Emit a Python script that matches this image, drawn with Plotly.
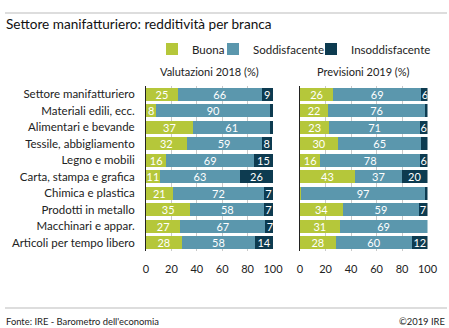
import plotly.graph_objects as go

categories = ["Settore manifatturiero", "Materiali edili, ecc.", "Alimentari e bevande",
              "Tessile, abbigliamento", "Legno e mobili", "Carta, stampa e grafica",
              "Chimica e plastica", "Prodotti in metallo", "Macchinari e appar.",
              "Articoli per tempo libero"]
series_names = ["Buona", "Soddisfacente", "Insoddisfacente"]
val2018_buona = [25, 8, 37, 32, 16, 11, 21, 35, 27, 28]
val2018_sodd = [66, 90, 61, 59, 69, 63, 72, 58, 67, 58]
val2018_insodd = [9, 2, 2, 8, 15, 26, 7, 7, 7, 14]
val2019_buona = [26, 22, 23, 30, 16, 43, 1, 34, 31, 28]
val2019_sodd = [69, 76, 71, 65, 78, 37, 97, 59, 69, 60]
val2019_insodd = [6, 2, 6, 5, 6, 20, 2, 7, 0, 12]
tick_vals = [0, 20, 40, 60, 80, 100]
panel_titles = ["Valutazioni 2018 (%)", "Previsioni 2019 (%)"]
colors = ["#b5c73a", "#5b97ad", "#0d3b50"]
legend_ids = ["legend", "legend2", "legend3"]

FONT = "Lato"
W, H = 449, 328

fig = go.Figure()

def lbl(v):
    return [str(x) if x >= 6 else "" for x in v]

panels = [
    ("x", "y", [val2018_buona, val2018_sodd, val2018_insodd], True),
    ("x2", "y2", [val2019_buona, val2019_sodd, val2019_insodd], False),
]
for xa, ya, vals, showleg in panels:
    for name, v, c, lg in zip(series_names, vals, colors, legend_ids):
        fig.add_trace(go.Bar(
            y=categories, x=v, orientation="h", name=name, marker_color=c,
            marker_line_width=0, xaxis=xa, yaxis=ya, showlegend=showleg,
            legendgroup=name, legend=lg, text=lbl(v), textposition="inside",
            insidetextanchor="middle", textangle=0,
            textfont=dict(color="white", size=11, family=FONT),
            hoverinfo="skip",
        ))

def px2x(p):
    return p / W

def py2y(p):
    return 1 - p / H

ydom = [py2y(251), py2y(86)]
axcommon = dict(range=[0, 100], tickvals=tick_vals, showgrid=True, gridcolor="#c9c9c9",
                gridwidth=1, zeroline=False, showline=False, ticks="",
                tickfont=dict(family=FONT, size=11, color="#222"), ticklabelstandoff=10,
                fixedrange=True, automargin=False)
legcommon = dict(orientation="h", yanchor="middle", xanchor="left", itemwidth=30,
                 font=dict(family=FONT, size=11.5, color="#222"),
                 bgcolor="rgba(0,0,0,0)", borderwidth=0)
fig.update_layout(
    width=W, height=H, margin=dict(l=0, r=0, t=0, b=0, autoexpand=False),
    paper_bgcolor="white", plot_bgcolor="white",
    barmode="stack", bargap=0.24,
    font=dict(family=FONT, color="#222"),
    xaxis=dict(domain=[px2x(146), px2x(273)], anchor="y", **axcommon),
    xaxis2=dict(domain=[px2x(300), px2x(427.5)], anchor="y2", **axcommon),
    yaxis=dict(domain=ydom, anchor="x", autorange="reversed", showline=True,
               linecolor="#222", linewidth=1, ticks="", showgrid=False, automargin=False,
               tickfont=dict(family=FONT, size=11.5, color="#222"), ticklabelstandoff=8),
    yaxis2=dict(domain=ydom, anchor="x2", autorange="reversed", showline=True,
                linecolor="#222", linewidth=1, ticks="", showgrid=False, automargin=False,
                showticklabels=False),
    legend=dict(x=px2x(152), y=py2y(49), **legcommon),
    legend2=dict(x=px2x(213), y=py2y(49), **legcommon),
    legend3=dict(x=px2x(311), y=py2y(49), **legcommon),
    uniformtext=dict(minsize=11, mode="show"),
    showlegend=True,
)

# title and footer
fig.add_annotation(text="Settore manifatturiero: redditività per branca", xref="paper", yref="paper",
                   x=px2x(4), y=py2y(24), xanchor="left", yanchor="middle", showarrow=False,
                   font=dict(family=FONT, size=13.6, color="#111"))
fig.add_annotation(text="Fonte: IRE - Barometro dell'economia", xref="paper", yref="paper",
                   x=px2x(4), y=py2y(321), xanchor="left", yanchor="middle", showarrow=False,
                   font=dict(family=FONT, size=9.4, color="#222"))
fig.add_annotation(text="©2019 IRE", xref="paper", yref="paper",
                   x=px2x(447), y=py2y(321), xanchor="right", yanchor="middle", showarrow=False,
                   font=dict(family=FONT, size=9.4, color="#222"))
for t, xa in zip(panel_titles, ["x", "x2"]):
    fig.add_annotation(text=t, xref=xa + " domain", yref="paper", x=0.5, y=py2y(72),
                       xanchor="center", yanchor="middle", showarrow=False,
                       font=dict(family=FONT, size=11, color="#222"))

for yy in [13, 308]:
    fig.add_shape(type="line", xref="paper", yref="paper", x0=px2x(5), x1=px2x(447),
                  y0=py2y(yy), y1=py2y(yy), line=dict(color="#bbbbbb", width=1))

fig.write_html("out.html")
